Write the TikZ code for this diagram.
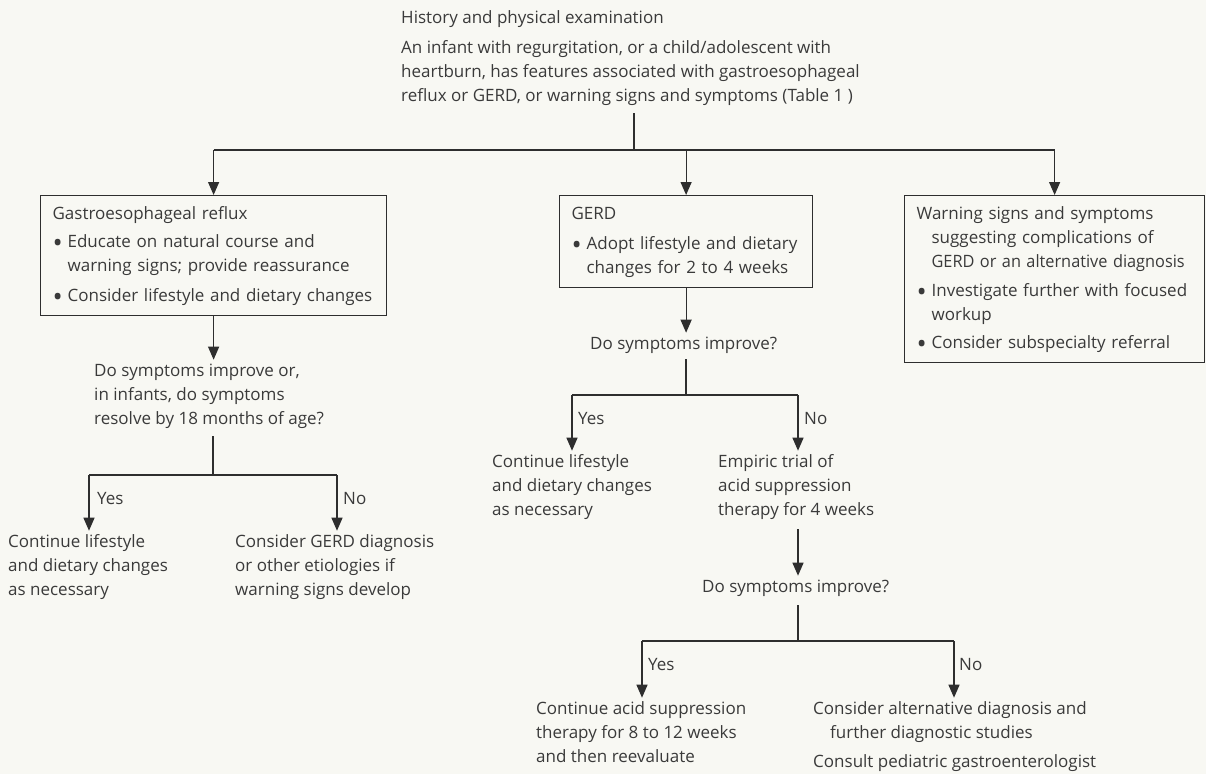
\documentclass[tikz,border=0pt]{standalone}
\usepackage{fontspec}
\usepackage{graphicx}
\setmainfont{Open Sans}
\usetikzlibrary{arrows.meta}
\definecolor{bg}{HTML}{F8F8F3}
\definecolor{ink}{HTML}{2E2E2E}
\definecolor{txtc}{HTML}{3A3A3A}
\newcommand{\mybul}{\makebox[15pt][l]{\raisebox{-5.3pt}{\scalebox{1.6}{\textbullet}}}}
\newcommand{\myind}{\hspace*{15pt}}
\begin{document}
\begin{tikzpicture}[x=1pt,y=-1pt,
  every node/.append style={inner sep=0pt, text=txtc, font=\fontsize{17}{24}\selectfont, align=left, anchor=north west},
  ln/.style={draw=ink, line width=1.2pt},
  arr/.style={ln, -{Triangle[length=13pt,width=11pt]}},
  box/.style={draw=ink, line width=1.2pt, inner xsep=12pt, inner ysep=7pt},
  lab/.style={anchor=base west}]
\fill[bg] (0,0) rectangle (1206,774);
\useasboundingbox (0,0) rectangle (1206,774);

% top text
\node (top) at (401,6.7) {\strut History and physical examination\\[6pt]
An infant with regurgitation, or a child/adolescent with\\
heartburn, has features associated with gastroesophageal\\
reflux or GERD, or warning signs and symptoms (Table 1 )\strut};

% boxes
\node[box, text width=322pt] (b1) at (40,195) {\strut Gastroesophageal reflux\\[4pt]
\mybul Educate on natural course and\\
\myind warning signs; provide reassurance\\[6pt]
\mybul Consider lifestyle and dietary changes\strut};
\node[box, text width=229pt] (b2) at (559,195) {\strut GERD\\[6pt]
\mybul Adopt lifestyle and dietary\\
\myind changes for 2 to 4 weeks\strut};
\node[box, text width=276pt] (b3) at (904,195) {\strut Warning signs and symptoms\\
\myind suggesting complications of\\
\myind\mbox{\scalebox{0.96}[1]{GERD or an alternative diagnosis}}\\[5pt]
\mybul Investigate further with focused\\
\myind workup\\[4pt]
\mybul Consider subspecialty referral\strut};

% questions
\node (q1) at (94,359.7) {\strut Do symptoms improve or,\\ in infants, do symptoms\\ resolve by 18 months of age?\strut};
\node (q2) at (590,332.7) {\strut Do symptoms improve?\strut};
\node (q3) at (702,575.7) {\strut Do symptoms improve?\strut};

% outcomes
\node (a1) at (8,530.7) {\strut Continue lifestyle\\ and dietary changes\\ as necessary\strut};
\node (a2) at (235,530.7) {\strut Consider GERD diagnosis\\ or other etiologies if\\ warning signs develop\strut};
\node (m1) at (492,450.7) {\strut Continue lifestyle\\ and dietary changes\\ as necessary\strut};
\node (m2) at (718,450.7) {\strut Empiric trial of\\ acid suppression\\ therapy for 4 weeks\strut};
\node (c1) at (536,697.7) {\strut Continue acid suppression\\ therapy for 8 to 12 weeks\\ and then reevaluate\strut};
\node (c2) at (813,697.7) {\strut Consider alternative diagnosis and\\ \hspace*{17pt}further diagnostic studies\\[5pt] Consult pediatric gastroenterologist\strut};

% labels
\node[lab] (y1) at (97,504.5) {Yes};
\node[lab] (n1) at (343,504.5) {No};
\node[lab] (y2) at (578,424.5) {Yes};
\node[lab] (n2) at (804,424.5) {No};
\node[lab] (y3) at (648,670.5) {Yes};
\node[lab] (n3) at (959,670.5) {No};

% junction coordinates
\coordinate (j0) at (634,150);
\coordinate (j1) at (213,475);
\coordinate (j1l) at (89,475);
\coordinate (j1r) at (337,475);
\coordinate (j2) at (686,395);
\coordinate (j2l) at (572,395);
\coordinate (j2r) at (798,395);
\coordinate (j3) at (798,641);
\coordinate (j3l) at (642,641);
\coordinate (j3r) at (954,641);

% top split
\draw[ln, shorten <=4pt] (j0 |- top.south) -- (j0);
\draw[ln] (b1.north |- j0) -- (b3.north |- j0);
\draw[arr] (b1.north |- j0) -- (b1.north);
\draw[arr] (b2.north |- j0) -- (b2.north);
\draw[arr] (b3.north |- j0) -- (b3.north);

% left branch
\draw[arr] (b1.south) -- (b1.south |- q1.north);
\draw[ln, shorten <=4pt] (j1 |- q1.south) -- (j1);
\draw[ln] (j1l) -- (j1r);
\draw[arr] (j1l) -- (j1l |- a1.north);
\draw[arr] (j1r) -- (j1r |- a2.north);

% middle branch
\draw[arr] (b2.south) -- (b2.south |- q2.north);
\draw[ln, shorten <=2pt] (j2 |- q2.south) -- (j2);
\draw[ln] (j2l) -- (j2r);
\draw[arr] (j2l) -- (j2l |- m1.north);
\draw[arr] (j2r) -- (j2r |- m2.north);
\draw[arr, shorten <=6pt] (j2r |- m2.south) -- (j2r |- q3.north);
\draw[ln, shorten <=5pt] (j3 |- q3.south) -- (j3);
\draw[ln] (j3l) -- (j3r);
\draw[arr] (j3l) -- (j3l |- c1.north);
\draw[arr] (j3r) -- (j3r |- c2.north);
\end{tikzpicture}
\end{document}
